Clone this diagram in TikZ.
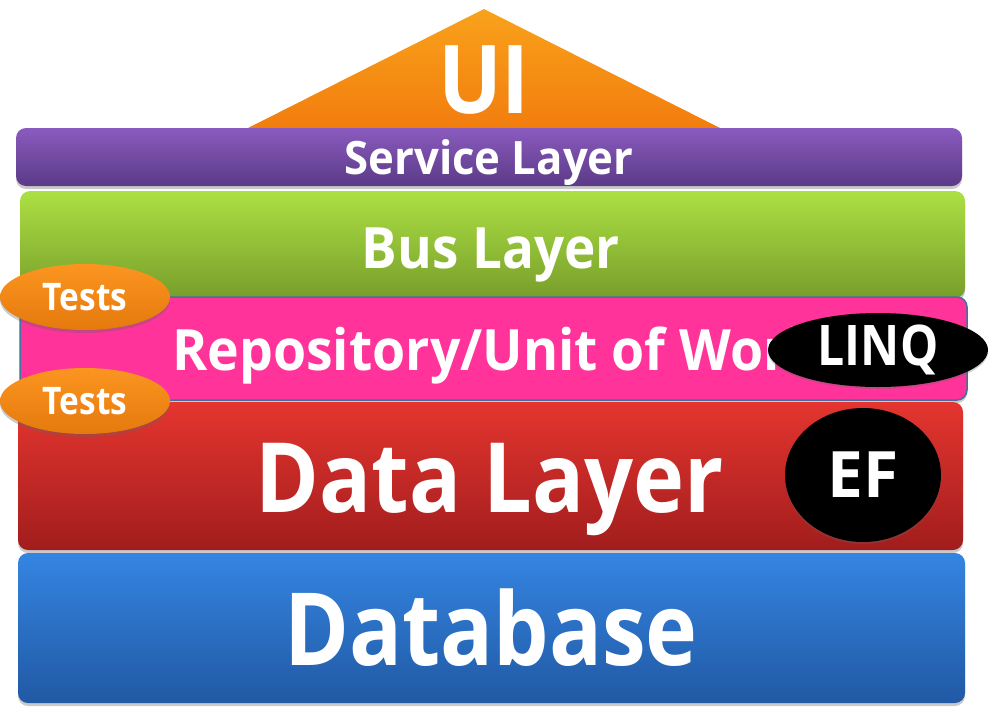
\documentclass[tikz,border=0pt]{standalone}
\usepackage{fontspec}
\setmainfont{Open Sans}
\usetikzlibrary{shapes.geometric,shadows}
\newcommand\fw[2]{\fontspec{Open Sans}[FakeStretch=#1]\bfseries\fontsize{#2}{#2}\selectfont}
\definecolor{orTop}{HTML}{F9A21B}
\definecolor{orBot}{HTML}{F27D0E}
\definecolor{puTop}{HTML}{8A5BBF}
\definecolor{puBot}{HTML}{5B3A86}
\definecolor{grTop}{HTML}{ACE043}
\definecolor{grBot}{HTML}{789E2B}
\definecolor{pink}{HTML}{FF3399}
\definecolor{pinkBorder}{HTML}{41719C}
\definecolor{reTop}{HTML}{E5352F}
\definecolor{reBot}{HTML}{A11D1D}
\definecolor{blTop}{HTML}{3485E2}
\definecolor{blBot}{HTML}{2159A4}
\definecolor{teTop}{HTML}{FB9520}
\definecolor{teBot}{HTML}{E5790D}
\tikzset{
  layer/.style={rectangle, rounded corners=10pt, inner sep=0pt, draw=none,
    drop shadow={shadow xshift=0pt, shadow yshift=-3pt, opacity=0.35, fill=black!60}},
  lbl/.style={anchor=base, text=white, inner sep=0pt},
  tests/.style={ellipse, inner sep=0pt, minimum width=170pt, minimum height=66pt,
    top color=teTop, bottom color=teBot, text=white, font=\fw{0.88}{38},
    drop shadow={shadow xshift=0pt, shadow yshift=-3pt, opacity=0.35, fill=black!60}},
  blob/.style={ellipse, inner sep=0pt, fill=black, text=white,
    drop shadow={shadow xshift=0pt, shadow yshift=-2pt, opacity=0.3, fill=black!60}}
}
\begin{document}
\begin{tikzpicture}
\useasboundingbox (0,0) rectangle (995pt,-707pt);
% UI roof
\shade[top color=orTop, bottom color=orBot] (248pt,-128pt) -- (484pt,-9pt) -- (720pt,-128pt) -- cycle;
\coordinate (uibase) at (484pt,-113pt);
\node[lbl, font=\fw{0.89}{95}] (ui) at (uibase) {UI};
% layers
\node[layer, top color=puTop, bottom color=puBot, minimum width=946pt, minimum height=58pt] (service) at (489pt,-157pt) {};
\node[layer, top color=grTop, bottom color=grBot, minimum width=945pt, minimum height=107pt] (bus) at (492.5pt,-244.5pt) {};
\node[layer, fill=pink, draw=pinkBorder, line width=1.5pt, minimum width=947pt, minimum height=103pt] (repo) at (493.5pt,-348.5pt) {};
\node[layer, top color=reTop, bottom color=reBot, minimum width=945pt, minimum height=148pt] (data) at (490.5pt,-476pt) {};
\node[layer, top color=blTop, bottom color=blBot, minimum width=947pt, minimum height=150pt] (db) at (491.5pt,-628pt) {};
% labels
\node[lbl, font=\fw{0.95}{46}] (servicelbl) at (489pt,-174pt) {Service Layer};
\node[lbl, font=\fw{0.93}{57}] (buslbl) at (491pt,-268pt) {Bus Layer};
\node[lbl, anchor=base west, font=\fw{0.94}{57}] (repolbl) at (172pt,-370pt) {Repository/Unit of Work};
\node[lbl, font=\fw{0.89}{97}] (datalbl) at (490pt,-512pt) {Data Layer};
\node[lbl, font=\fw{0.87}{101}] (dblbl) at (491pt,-665pt) {Database};
% badges
\node[blob, minimum width=220pt, minimum height=74pt, font=\fw{0.86}{56}] (linq) at (878pt,-350pt) {LINQ};
\node[blob, minimum width=156pt, minimum height=134pt, font=\fw{1}{64}] (ef) at (863pt,-475pt) {EF};
\node[tests] (tests1) at (85pt,-297pt) {Tests};
\node[tests] (tests2) at (85pt,-401pt) {Tests};
\end{tikzpicture}
\end{document}
